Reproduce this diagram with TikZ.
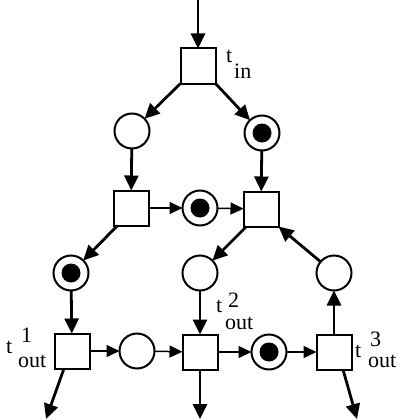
\documentclass[tikz,border=0pt]{standalone}
\usepackage{fontspec}
\setmainfont{Liberation Serif}
\usetikzlibrary{arrows.meta}
\begin{document}
\begin{tikzpicture}[x=1pt,y=-1pt,
  trans/.style={draw,line width=2pt,minimum size=35pt,inner sep=0pt,outer sep=0pt},
  place/.style={draw,circle,line width=2pt,minimum size=35pt,inner sep=0pt,outer sep=0pt},
  marked/.style={place,path picture={\fill (path picture bounding box.center) circle (9.5pt);}},
  arc/.style={line width=2.8pt,-{Triangle[length=15pt,width=14pt]}},
  flatarc/.style={line width=1.5pt,-{Triangle[length=13pt,width=12pt]}},
  lbl/.style={inner sep=0pt,anchor=base west,font=\fontsize{22}{22}\selectfont}]

% canvas
\fill[white] (0,0) rectangle (397,420);
\path[use as bounding box] (0,0) rectangle (397,420);

% transitions
\node[trans] (tin) at (198,66) {};
\node[trans] (ta)  at (131,208) {};
\node[trans] (tb)  at (261,209) {};
\node[trans] (to1) at (72,351) {};
\node[trans] (to2) at (200,352) {};
\node[trans] (to3) at (334,352) {};

% places
\node[place]  (p1) at (132,131) {};
\node[marked] (p2) at (262,133) {};
\node[marked] (p3) at (200,208) {};
\node[marked] (p4) at (71,273) {};
\node[place]  (p5) at (200,273) {};
\node[place]  (p6) at (334,273) {};
\node[place]  (p7) at (137,351) {};
\node[marked] (p8) at (269,352) {};

% free ends of the input and output arcs
\coordinate (src) at (198,0);
\coordinate (sink1) at (46,419);
\coordinate (sink2) at (200,419);
\coordinate (sink3) at (357,419);

% arcs
\draw[arc] (src) -- (tin);
\draw[arc] (tin.south west) -- (p1);
\draw[arc] (tin.south east) -- (p2);
\draw[arc] (p1) -- (ta);
\draw[arc] (p2) -- (tb);
\draw[flatarc] (ta) -- (p3);
\draw[flatarc] (p3) -- (tb);
\draw[arc] ([xshift=4pt]ta.south west) -- (p4);
\draw[arc] ([xshift=3pt]tb.south west) -- (p5);
\draw[arc] (p6) -- (tb.south east);
\draw[arc] (p4) -- (to1);
\draw[arc] (p5) -- (to2);
\draw[arc] (to3) -- (p6);
\draw[flatarc] (to1) -- (p7);
\draw[flatarc] (p7) -- (to2);
\draw[flatarc] (to2) -- (p8);
\draw[flatarc] (p8) -- (to3);
\draw[arc] ([xshift=-8pt]to1.south) -- (sink1);
\draw[arc] (to2) -- (sink2);
\draw[arc] ([xshift=9pt]to3.south) -- (sink3);

% labels
\node[lbl] (lin1) at (226,63) {t};
\node[lbl] (lin2) at (234,78) {in};

\node[lbl] (la1) at (6,353) {t};
\node[lbl] (la2) at (21,342) {1};
\node[lbl] (la3) at (18,367) {out};

\node[lbl] (lb1) at (216,312) {t};
\node[lbl] (lb2) at (228,307) {2};
\node[lbl] (lb3) at (225,329) {out};

\node[lbl] (lc1) at (355,357) {t};
\node[lbl] (lc2) at (370,346) {3};
\node[lbl] (lc3) at (368,367) {out};
\end{tikzpicture}
\end{document}
